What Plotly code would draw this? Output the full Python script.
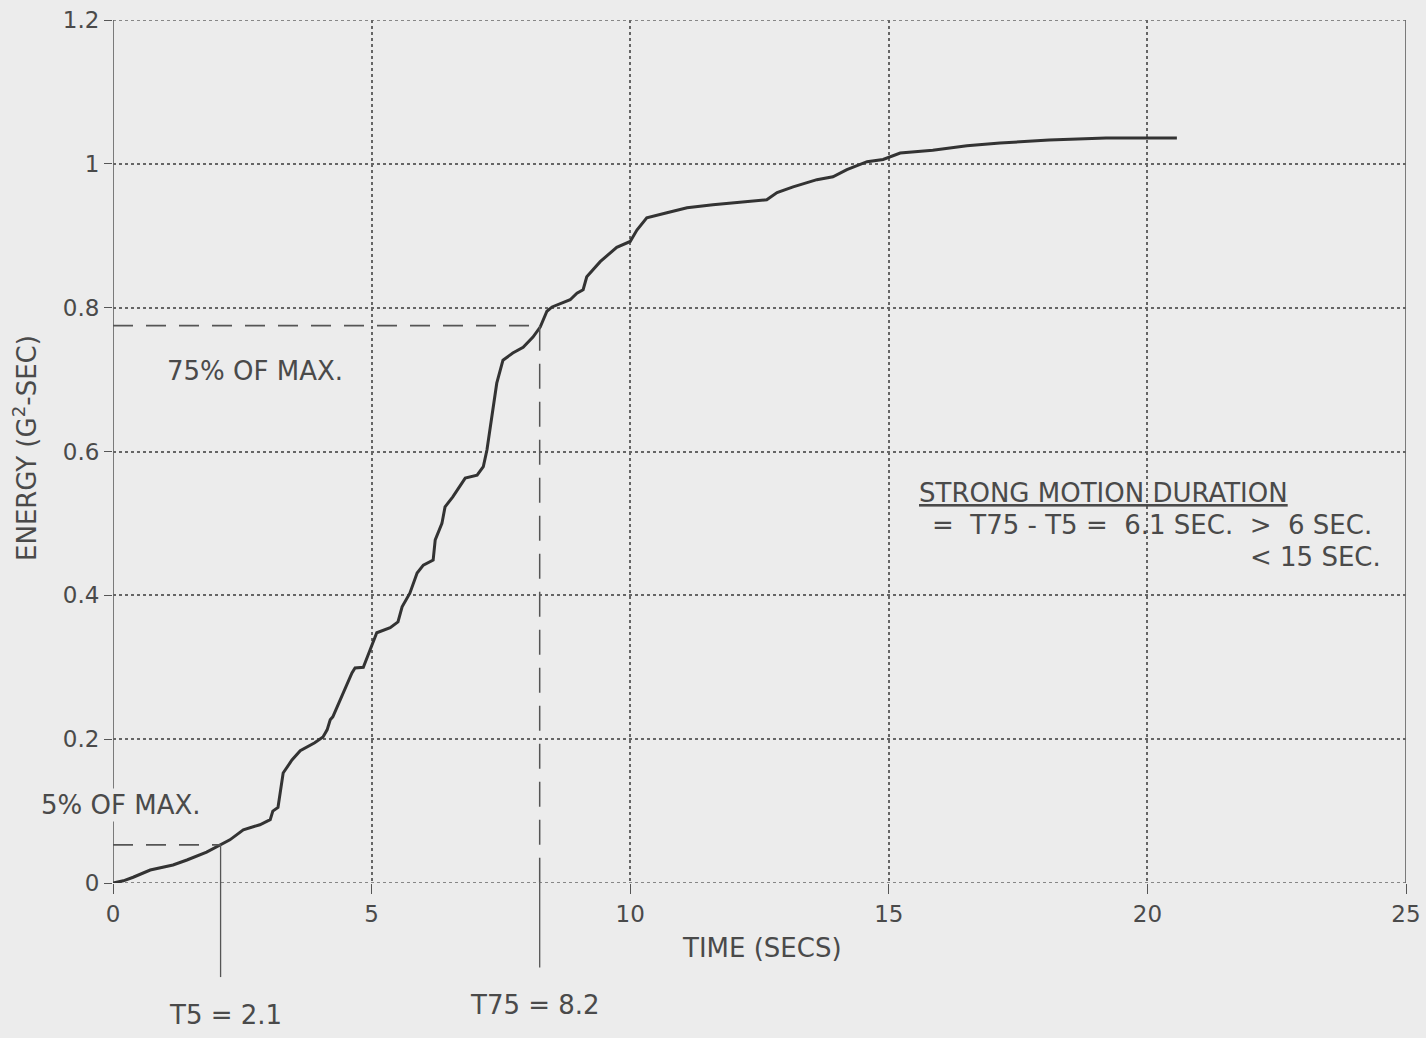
import plotly.graph_objects as go

# ---- data ----
time_s = [0, 0.2, 0.39, 0.72, 1.16, 1.43, 1.81, 2.07, 2.26, 2.52, 2.84, 3.04, 3.09, 3.19, 3.23,
          3.29, 3.46, 3.62, 3.9, 4.06, 4.14, 4.2, 4.25, 4.45, 4.62, 4.68, 4.84, 4.97, 5.1, 5.36,
          5.51, 5.59, 5.74, 5.88, 6.0, 6.19, 6.23, 6.36, 6.42, 6.57, 6.81, 7.04, 7.16, 7.23,
          7.29, 7.35, 7.42, 7.54, 7.73, 7.93, 8.12, 8.26, 8.39, 8.49, 8.84, 8.97, 9.09, 9.16,
          9.42, 9.74, 10.0, 10.13, 10.32, 10.71, 11.1, 11.6, 12.12, 12.64, 12.84, 13.15, 13.61,
          13.92, 14.19, 14.58, 14.89, 15.22, 15.85, 16.18, 16.51, 17.15, 17.34, 18.1, 19.2, 20.57]
energy = [0, 0.003, 0.008, 0.018, 0.025, 0.032, 0.043, 0.053, 0.06, 0.074, 0.081, 0.088, 0.1, 0.105,
          0.125, 0.153, 0.171, 0.184, 0.195, 0.203, 0.213, 0.227, 0.231, 0.264, 0.292, 0.299, 0.3,
          0.324, 0.348, 0.355, 0.363, 0.384, 0.403, 0.431, 0.442, 0.449, 0.477, 0.5, 0.523, 0.537,
          0.563, 0.567, 0.579, 0.602, 0.63, 0.662, 0.695, 0.727, 0.737, 0.745, 0.759, 0.773, 0.795,
          0.801, 0.811, 0.82, 0.825, 0.843, 0.864, 0.884, 0.892, 0.908, 0.925, 0.932, 0.939, 0.943,
          0.946, 0.95, 0.96, 0.968, 0.978, 0.982, 0.992, 1.003, 1.006, 1.015, 1.019, 1.022, 1.025,
          1.029, 1.03, 1.033, 1.036, 1.036]

x_ticks = [0, 5, 10, 15, 20, 25]
y_ticks = [0, 0.2, 0.4, 0.6, 0.8, 1.0, 1.2]
y_tick_text = ["0", "0.2", "0.4", "0.6", "0.8", "1", "1.2"]

t5, e5 = 2.08, 0.053
t75, e75 = 8.25, 0.775

BG = "#ececec"
INK = "#333333"
TXT = "#4a4a4a"
LN = "#555555"
FONT = "DejaVu Sans"

fig = go.Figure()
fig.add_trace(go.Scatter(x=time_s, y=energy, mode="lines",
                         line=dict(color=INK, width=3), showlegend=False, hoverinfo="skip"))

shapes = []
# border lines
shapes.append(dict(type="line", xref="x", yref="y", x0=0, x1=0, y0=0, y1=1.2,
                   line=dict(color=LN, width=1.5), layer="below"))
shapes.append(dict(type="line", xref="x", yref="y", x0=25, x1=25, y0=0, y1=1.2,
                   line=dict(color=LN, width=1.5), layer="below"))
shapes.append(dict(type="line", xref="x", yref="y", x0=0, x1=25, y0=1.2, y1=1.2,
                   line=dict(color="#666666", width=1.5, dash="dot"), layer="below"))
shapes.append(dict(type="line", xref="x", yref="y", x0=0, x1=25, y0=0, y1=0,
                   line=dict(color="#666666", width=1.5, dash="dot"), layer="below"))
# 75% guides
shapes.append(dict(type="line", xref="x", yref="y", x0=0, x1=t75, y0=e75, y1=e75,
                   line=dict(color=LN, width=1.8, dash="20px,13px")))
shapes.append(dict(type="line", xref="x", yref="y", x0=t75, x1=t75, y0=e75, y1=0,
                   line=dict(color=LN, width=1.5, dash="25px,13px")))
shapes.append(dict(type="line", xref="x", yref="paper", x0=t75, x1=t75, y0=0, y1=-0.098,
                   line=dict(color=LN, width=1.3)))
# 5% guides
shapes.append(dict(type="line", xref="x", yref="y", x0=0, x1=t5, y0=e5, y1=e5,
                   line=dict(color=LN, width=1.8, dash="20px,13px")))
shapes.append(dict(type="line", xref="x", yref="y", x0=t5, x1=t5, y0=e5, y1=0,
                   line=dict(color=LN, width=1.3)))
shapes.append(dict(type="line", xref="x", yref="paper", x0=t5, x1=t5, y0=0, y1=-0.109,
                   line=dict(color=LN, width=1.3)))

ann = []
fs = 26


def A(**kw):
    d = dict(showarrow=False, xanchor="center", yanchor="middle",
             font=dict(family=FONT, size=fs, color=TXT))
    d.update(kw)
    ann.append(d)


A(xref="x", yref="y", x=2.75, y=0.712, text="75% OF MAX.")
A(xref="x", yref="y", x=0.15, y=0.108, text="5% OF MAX.", bgcolor=BG)
A(xref="x", yref="paper", x=2.17, y=(883 - 1015) / 863, text="T5 = 2.1")
A(xref="x", yref="paper", x=8.16, y=(883 - 1005) / 863, text="T75 = 8.2")
A(xref="paper", yref="paper", x=(762 - 113) / 1293, y=(883 - 948) / 863, text="TIME (SECS)")
A(xref="paper", yref="paper", x=(25 - 113) / 1293, y=(883 - 448) / 863,
  text="ENERGY (G<sup>2</sup>-SEC)", textangle=-90)
A(xref="x", yref="y", x=(917 - 113) / 51.72, y=(883 - 493) / 719, xanchor="left",
  text="<u>STRONG MOTION DURATION</u>")
A(xref="x", yref="y", x=(930 - 113) / 51.72, y=(883 - 525) / 719, xanchor="left",
  text="=&nbsp;&nbsp;T75 - T5 =&nbsp;&nbsp;6.1 SEC.&nbsp;&nbsp;&gt;&nbsp;&nbsp;6 SEC.")
A(xref="x", yref="y", x=(1383 - 113) / 51.72, y=(883 - 557) / 719, xanchor="right",
  text="&lt; 15 SEC.")

fig.update_layout(
    width=1426, height=1038,
    margin=dict(l=113, r=20, t=20, b=155, autoexpand=False),
    paper_bgcolor=BG, plot_bgcolor=BG,
    shapes=shapes, annotations=ann,
    showlegend=False,
    xaxis=dict(range=[0, 25], tickvals=x_ticks, ticktext=[str(v) for v in x_ticks],
               automargin=False,
               showgrid=True, gridcolor="#666666", gridwidth=1.5, griddash="dot",
               zeroline=False, showline=False, ticks="outside", ticklen=10, tickwidth=1.3,
               tickcolor=LN, tickfont=dict(family=FONT, size=23, color=TXT)),
    yaxis=dict(range=[0, 1.2], tickvals=y_ticks, ticktext=y_tick_text,
               automargin=False,
               showgrid=True, gridcolor="#666666", gridwidth=1.5, griddash="dot",
               zeroline=False, showline=False, ticks="outside", ticklen=8, tickwidth=1.3,
               tickcolor=LN, tickfont=dict(family=FONT, size=23, color=TXT)),
)

fig.write_html("out.html")
